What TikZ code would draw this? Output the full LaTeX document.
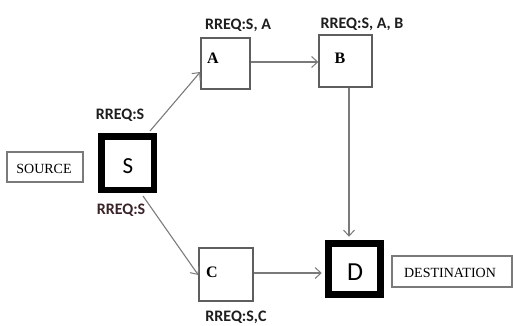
\documentclass[tikz,border=0pt]{standalone}
\usepackage{fontspec}
\setmainfont{Liberation Serif}
\newfontfamily\calfont{Carlito}
\usetikzlibrary{arrows.meta}
\definecolor{lncol}{HTML}{7A7A7A}
\definecolor{boxcol}{HTML}{5E5E5E}
\definecolor{lblcol}{HTML}{1E1E1E}
\definecolor{lblred}{HTML}{3A2428}
\begin{document}
\begin{tikzpicture}[x=1pt,y=-1pt,
  plainbox/.style={draw=boxcol,line width=1.4pt,inner sep=0pt,fill=white},
  heavybox/.style={draw=black,line width=6.5pt,inner sep=0pt,fill=white},
  namebox/.style={draw=lncol,line width=1.2pt,inner sep=0pt,fill=white},
  reqlbl/.style={text=lblcol,font=\calfont\bfseries\fontsize{16}{18}\selectfont,inner sep=0pt},
  letter/.style={font=\bfseries\fontsize{16}{18}\selectfont,inner sep=0pt},
  conn/.style={draw=lncol,line width=1.1pt,-{Straight Barb[length=6pt,width=11pt,line width=1pt]}}
]
\useasboundingbox (0,0) rectangle (513,325);
% boxes
\node[namebox,minimum width=76pt,minimum height=30pt] (src) at (45,167) {};
\node[font=\fontsize{14}{16}\selectfont,inner sep=0pt] (srct) at (44,169) {SOURCE};
\node[heavybox,minimum width=52.5pt,minimum height=53.5pt] (S) at (127.5,163) {};
\node[font=\calfont\fontsize{23}{25}\selectfont,inner sep=0pt] (St) at (128,166) {S};
\node[plainbox,minimum width=49pt,minimum height=51pt] (A) at (225.5,63.5) {};
\node[letter] (At) at (213,58) {A};
\node[plainbox,minimum width=53pt,minimum height=52pt] (B) at (345.5,61) {};
\node[letter] (Bt) at (340,58) {B};
\node[plainbox,minimum width=54pt,minimum height=53pt] (C) at (226,274.5) {};
\node[letter] (Ct) at (212,272) {C};
\node[heavybox,minimum width=52pt,minimum height=51pt] (D) at (354.5,269) {};
\node[font=\calfont\fontsize{26}{28}\selectfont,inner sep=0pt] (Dt) at (355,272) {D};
\node[namebox,minimum width=120pt,minimum height=31pt] (dst) at (452,271.5) {};
\node[font=\fontsize{14}{16}\selectfont,inner sep=0pt] (dstt) at (450,273) {DESTINATION};
% labels
\node[reqlbl] (l1) at (238,25) {RREQ:S, A};
\node[reqlbl] (l2) at (362,24) {RREQ:S, A, B};
\node[reqlbl] (l3) at (120,115) {RREQ:S};
\node[reqlbl,text=lblred] (l4) at (121,210) {RREQ:S};
\node[reqlbl] (l5) at (236,317) {RREQ:S,C};
% connectors
\draw[conn] ([xshift=-7pt,yshift=2pt]S.north east) -- ([yshift=-8.5pt]A.west);
\draw[conn] ([xshift=-14pt,yshift=-3pt]S.south east) -- ([yshift=-0.5pt]C.west);
\draw[conn] ([yshift=1.5pt]A.east) -- ([yshift=-1pt]B.west);
\draw[conn] ([xshift=3.5pt]B.south) -- ([xshift=-5.5pt,yshift=3.5pt]D.north);
\draw[conn] ([yshift=1.5pt]C.east) -- ([xshift=-3.5pt,yshift=-4pt]D.west);
\end{tikzpicture}
\end{document}
